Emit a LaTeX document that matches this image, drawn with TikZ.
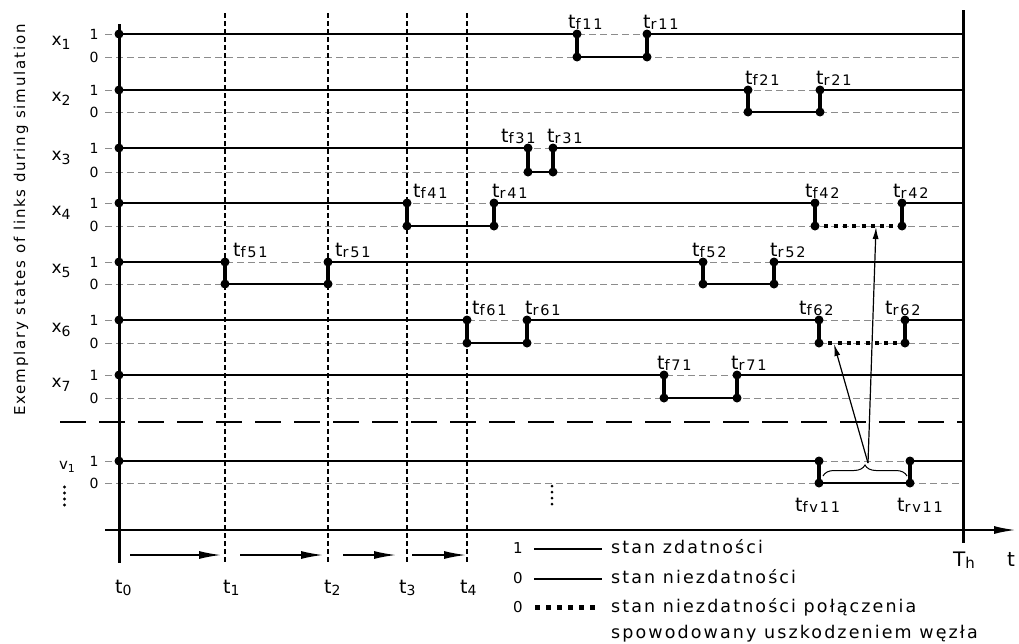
\documentclass[tikz,border=0pt]{standalone}
\usepackage{fontspec}
\setmainfont{DejaVu Sans}[LetterSpace=12]
\usetikzlibrary{arrows.meta,decorations.pathreplacing}
\newcommand\tl[1]{{\fontsize{19}{19}\selectfont t}\raisebox{-1.5pt}{\fontsize{14.5}{14.5}\selectfont #1}}
\newcommand\tb[1]{{\fontsize{19}{19}\selectfont t}\raisebox{-2pt}{\fontsize{14}{14}\selectfont #1}}
\newcommand\xl[2]{{\fontsize{17}{17}\selectfont #1}\raisebox{-4pt}{\fontsize{14}{14}\selectfont #2}}
\newcommand\failrep[6]{%
  \coordinate (#1f1) at (#2,#4);
  \coordinate (#1f0) at (#2,#5);
  \coordinate (#1r0) at (#3,#5);
  \coordinate (#1r1) at (#3,#4);
  \draw[#6] (#1f0) -- (#1r0);
  \draw[trans] (#1f1) -- (#1f0);
  \draw[trans] (#1r0) -- (#1r1);
  \foreach \p in {f1,f0,r0,r1}{\fill (#1\p) circle[radius=4.5pt];}
}
\begin{document}
\begin{tikzpicture}[x=1pt,y=-1pt,
  lvl/.style={black!45, line width=1pt, dash pattern=on 7pt off 4pt},
  hi/.style={line width=2.4pt},
  lo/.style={line width=2.4pt},
  dotl/.style={line width=4pt, dash pattern=on 4pt off 5.3pt},
  trans/.style={line width=3.5pt},
  vd/.style={line width=1.1pt, dash pattern=on 5pt off 3pt},
  lab/.style={anchor=base west, inner sep=0pt},
  dig/.style={font=\fontsize{14}{14}\selectfont, inner sep=0pt},
  leg/.style={anchor=base west, inner sep=0pt, font=\fontsize{17.5}{18}\selectfont},
  bigarrow/.style={line width=1.5pt, -{Latex[length=22pt,width=8pt]}},
  thinarrow/.style={line width=1.2pt, -{Latex[length=12pt,width=6pt]}}]
\useasboundingbox (0,0) rectangle (1019,643);

% grey level lines
\foreach \y in {34,57,90,112,148,172,203,226,262,284,320,343,375,398,461,483}
  \draw[lvl] (105,\y) -- (963,\y);
% vertical dashed time lines
\foreach \x in {225,328,407,467}
  \draw[vd] (\x,13) -- (\x,563);
% big separator
\draw[line width=2.5pt, dash pattern=on 26pt off 13pt] (60,422) -- (963,422);

% axes
\coordinate (ax0t) at (119,24); \coordinate (ax0b) at (119,563);
\coordinate (thT) at (963,10); \coordinate (thB) at (963,543);
\coordinate (taS) at (105,530); \coordinate (taE) at (1016,530);
\draw[line width=3pt] (ax0t) -- (ax0b);
\draw[line width=3pt] (thT) -- (thB);
\draw[bigarrow, line width=2pt] (taS) -- (taE);

% row starts / ends
\foreach \n/\y in {1/34,2/90,3/148,4/203,5/262,6/320,7/375,8/461}{
  \coordinate (s\n) at (119,\y);
  \coordinate (e\n) at (963,\y);
}

% x1
\failrep{a}{577}{647}{34}{57}{lo}
\draw[hi] (s1) -- (af1); \draw[hi] (ar1) -- (e1);
% x2
\failrep{b}{748}{820}{90}{112}{lo}
\draw[hi] (s2) -- (bf1); \draw[hi] (br1) -- (e2);
% x3
\failrep{c}{528}{553}{148}{172}{lo}
\draw[hi] (s3) -- (cf1); \draw[hi] (cr1) -- (e3);
% x4
\failrep{d}{407}{494}{203}{226}{lo}
\failrep{dd}{815}{902}{203}{226}{dotl}
\draw[hi] (s4) -- (df1); \draw[hi] (dr1) -- (ddf1); \draw[hi] (ddr1) -- (e4);
% x5
\failrep{f}{225}{328}{262}{284}{lo}
\failrep{ff}{703}{774}{262}{284}{lo}
\draw[hi] (s5) -- (ff1); \draw[hi] (fr1) -- (fff1); \draw[hi] (ffr1) -- (e5);
% x6
\failrep{g}{467}{527}{320}{343}{lo}
\failrep{gg}{819}{905}{320}{343}{dotl}
\draw[hi] (s6) -- (gf1); \draw[hi] (gr1) -- (ggf1); \draw[hi] (ggr1) -- (e6);
% x7
\failrep{h}{664}{737}{375}{398}{lo}
\draw[hi] (s7) -- (hf1); \draw[hi] (hr1) -- (e7);
% v1
\failrep{v}{819}{910}{461}{483}{lo}
\draw[hi] (s8) -- (vf1); \draw[hi] (vr1) -- (e8);

\foreach \n in {1,...,8}{\fill (s\n) circle[radius=4.5pt];}

% transition labels
\node[lab] (Lf11) at (568,28) {\tl{f11}};
\node[lab] (Lr11) at (643,28) {\tl{r11}};
\node[lab] (Lf21) at (745,84) {\tl{f21}};
\node[lab] (Lr21) at (816,84) {\tl{r21}};
\node[lab] (Lf31) at (501,142) {\tl{f31}};
\node[lab] (Lr31) at (547,142) {\tl{r31}};
\node[lab] (Lf41) at (413,197) {\tl{f41}};
\node[lab] (Lr41) at (492,197) {\tl{r41}};
\node[lab] (Lf42) at (805,197) {\tl{f42}};
\node[lab] (Lr42) at (893,197) {\tl{r42}};
\node[lab] (Lf51) at (233,256) {\tl{f51}};
\node[lab] (Lr51) at (335,256) {\tl{r51}};
\node[lab] (Lf52) at (692,256) {\tl{f52}};
\node[lab] (Lr52) at (770,256) {\tl{r52}};
\node[lab] (Lf61) at (472,314) {\tl{f61}};
\node[lab] (Lr61) at (525,314) {\tl{r61}};
\node[lab] (Lf62) at (799,314) {\tl{f62}};
\node[lab] (Lr62) at (885,314) {\tl{r62}};
\node[lab] (Lf71) at (657,369) {\tl{f71}};
\node[lab] (Lr71) at (731,369) {\tl{r71}};
\node[lab] (Lfv) at (795,511) {\tl{fv11}};
\node[lab] (Lrv) at (897,511) {\tl{rv11}};

% brace and arrows
\draw[decorate, decoration={brace, amplitude=11pt}, line width=1pt] (823,476) -- (907,476);
\coordinate (bt) at (868,463);
\coordinate (tg4) at (876,227);
\coordinate (tg6) at (834,344);
\draw[thinarrow] (bt) -- (tg4);
\draw[thinarrow] (bt) -- (tg6);

% row labels
\node (X1) at (61,43) {\xl{x}{1}};
\node (X2) at (61,99) {\xl{x}{2}};
\node (X3) at (61,158) {\xl{x}{3}};
\node (X4) at (61,213) {\xl{x}{4}};
\node (X5) at (61,271) {\xl{x}{5}};
\node (X6) at (61,330) {\xl{x}{6}};
\node (X7) at (61,385) {\xl{x}{7}};
\node (V1) at (67,467) {{\fontsize{15}{15}\selectfont v}\raisebox{-3pt}{\fontsize{11}{11}\selectfont 1}};
\foreach \y in {487,493,499,505}{\fill (64.5,\y) circle[radius=1.7pt];}
\foreach \y in {486,492,498,504}{\fill (552,\y) circle[radius=1.5pt];}

% level digits
\foreach \n/\a/\b in {1/34/57,2/90/112,3/148/172,4/203/226,5/262/284,6/320/343,7/375/398,8/461/483}{
  \node[dig] (one\n) at (94,\a) {1};
  \node[dig] (zero\n) at (94,\b) {0};
}

% y axis title
\node[rotate=90, font=\fontsize{15}{15}\selectfont] (ytitle) at (21,220) {Exemplary states of links during simulation};

% time step arrows
\coordinate (a1s) at (130,555); \coordinate (a1e) at (221,555);
\coordinate (a2s) at (240,555); \coordinate (a2e) at (323,555);
\coordinate (a3s) at (343,555); \coordinate (a3e) at (396,555);
\coordinate (a4s) at (412,555); \coordinate (a4e) at (466,555);
\draw[bigarrow] (a1s) -- (a1e);
\draw[bigarrow] (a2s) -- (a2e);
\draw[bigarrow] (a3s) -- (a3e);
\draw[bigarrow] (a4s) -- (a4e);

% time labels
\node[lab] (T0) at (115,593) {\tb{0}};
\node[lab] (T1) at (223,593) {\tb{1}};
\node[lab] (T2) at (324,593) {\tb{2}};
\node[lab] (T3) at (399,593) {\tb{3}};
\node[lab] (T4) at (460,593) {\tb{4}};
\node[lab] (Th) at (953,566) {{\fontsize{20}{20}\selectfont T}\raisebox{-2pt}{\fontsize{15}{15}\selectfont h}};
\node[lab] (Tt) at (1007,566) {\fontsize{20}{20}\selectfont t};

% legend
\node[anchor=base, inner sep=0pt, font=\fontsize{15}{15}\selectfont] (g1) at (518,553) {1};
\node[anchor=base, inner sep=0pt, font=\fontsize{15}{15}\selectfont] (g2) at (518,583) {0};
\node[anchor=base, inner sep=0pt, font=\fontsize{15}{15}\selectfont] (g3) at (518,612) {0};
\coordinate (g1a) at (534,549); \coordinate (g1b) at (602,549);
\coordinate (g2a) at (534,579); \coordinate (g2b) at (602,579);
\coordinate (g3a) at (535,607); \coordinate (g3b) at (600,607);
\draw[line width=2.5pt] (g1a) -- (g1b);
\draw[line width=2.5pt] (g2a) -- (g2b);
\draw[line width=5pt, dash pattern=on 5pt off 6pt] (g3a) -- (g3b);
\node[leg] (t1) at (611,553) {stan zdatności};
\node[leg] (t2) at (611,583) {stan niezdatności};
\node[leg] (t3) at (611,612) {stan niezdatności połączenia};
\node[leg] (t4) at (611,638) {spowodowany uszkodzeniem węzła};
\end{tikzpicture}
\end{document}
